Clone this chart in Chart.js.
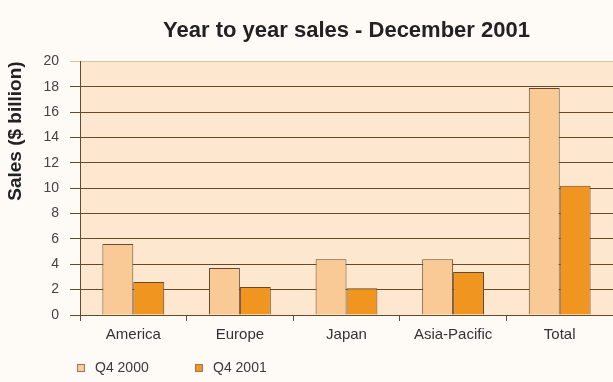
<!DOCTYPE html>
<html>
<head>
<meta charset="utf-8">
<script src="https://cdn.jsdelivr.net/npm/chart.js@4.4.1/dist/chart.umd.min.js"></script>
<style>
  html, body { margin: 0; padding: 0; background: #fefaf6; }
  #wrap { width: 613px; height: 382px; }
</style>
</head>
<body>
<div id="wrap"><canvas id="chart" width="613" height="382"></canvas></div>
<script>
// ─── Dados ───
const regions = ['America', 'Europe', 'Japan', 'Asia-Pacific', 'Total'];
const sales2000 = [5.6, 3.7, 4.4, 4.4, 17.9];
const sales2001 = [2.6, 2.2, 2.1, 3.4, 10.2];
const seriesNames = ['Q4 2000', 'Q4 2001'];
const yMin = 0, yMax = 20, yStep = 2;

const FONT = '"Liberation Sans", Arial, Helvetica, sans-serif';
const BROWN = '#664a2e';

// fundo da área do gráfico
const plotBg = {
  id: 'plotBg',
  beforeDraw(chart) {
    const { ctx, chartArea: a } = chart;
    ctx.save();
    ctx.fillStyle = '#fde8cf';
    ctx.fillRect(a.left, a.top, a.right - a.left, a.bottom - a.top);
    ctx.restore();
  }
};

// legenda abaixo do eixo, alinhada à esquerda
const legendBelow = {
  id: 'legendBelow',
  afterDraw(chart) {
    const { ctx, chartArea: a } = chart;
    let x = a.left - 3;
    const y = a.bottom + 53;
    ctx.save();
    ctx.font = '14px ' + FONT;
    ctx.textBaseline = 'middle';
    chart.data.datasets.forEach(ds => {
      ctx.fillStyle = ds.backgroundColor;
      ctx.fillRect(x, y - 4, 8, 8);
      ctx.strokeStyle = '#9a7a5a';
      ctx.lineWidth = 1;
      ctx.strokeRect(x + 0.5, y - 3.5, 7, 7);
      ctx.fillStyle = '#3a3a3a';
      ctx.fillText(ds.label, x + 18, y);
      x += 118;
    });
    ctx.restore();
  }
};

new Chart(document.getElementById('chart'), {
  type: 'bar',
  data: {
    labels: regions,
    datasets: [
      { label: seriesNames[0], data: sales2000, backgroundColor: '#f9ca96', borderColor: BROWN, borderWidth: 1 },
      { label: seriesNames[1], data: sales2001, backgroundColor: '#f0951f', borderColor: BROWN, borderWidth: 1 }
    ]
  },
  options: {
    responsive: false,
    animation: false,
    layout: { padding: { left: 0, right: 0, top: 0, bottom: 37 } },
    datasets: { bar: { categoryPercentage: 0.58, barPercentage: 1.0 } },
    plugins: {
      legend: { display: false },
      tooltip: { enabled: false },
      title: {
        display: true,
        fullSize: false,
        text: 'Year to year sales - December 2001',
        color: '#222',
        font: { family: FONT, size: 22, weight: 'bold' },
        padding: { top: 18, bottom: 17 }
      }
    },
    scales: {
      x: {
        grid: { display: true, drawOnChartArea: false, offset: true, tickLength: 6, color: BROWN },
        border: { display: true, color: BROWN },
        ticks: { color: '#333', font: { family: FONT, size: 15 }, padding: 5 },
        afterFit(scale) { scale.height = 30; }
      },
      y: {
        min: yMin,
        max: yMax,
        ticks: { stepSize: yStep, color: '#444', font: { family: FONT, size: 14 }, padding: 11 },
        grid: {
          color: c => (c.tick && c.tick.value === yMax) ? '#d8c0a2' : BROWN,
          tickLength: 10
        },
        border: { display: true, color: BROWN },
        title: {
          display: true,
          text: 'Sales ($ billion)',
          align: 'end',
          color: '#222',
          font: { family: FONT, size: 19, weight: 'bold' },
          padding: { top: 4, bottom: 0 }
        },
        afterFit(scale) { scale.width = 80; }
      }
    }
  },
  plugins: [plotBg, legendBelow]
});
</script>
</body>
</html>
